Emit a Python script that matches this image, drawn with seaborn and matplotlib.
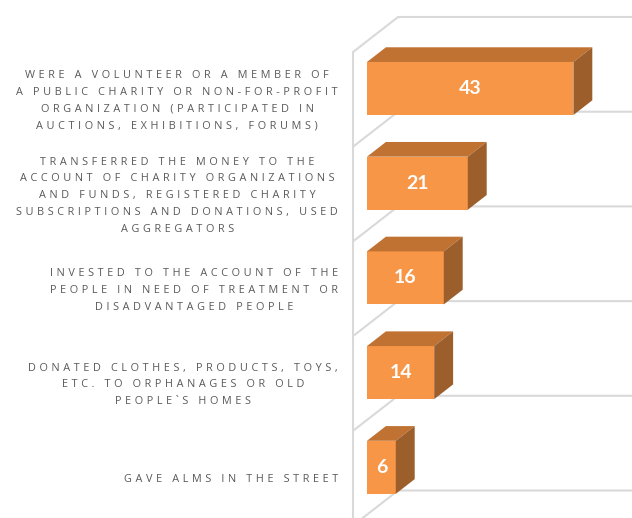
import matplotlib
matplotlib.use('Agg')
import numpy as np
import matplotlib.pyplot as plt
import seaborn as sns
from matplotlib.patches import Polygon

categories = [
    "WERE A VOLUNTEER OR A MEMBER OF\nA PUBLIC CHARITY OR NON-FOR-PROFIT\nORGANIZATION (PARTICIPATED IN\nAUCTIONS, EXHIBITIONS, FORUMS)",
    "TRANSFERRED THE MONEY TO THE\nACCOUNT OF CHARITY ORGANIZATIONS\nAND FUNDS, REGISTERED CHARITY\nSUBSCRIPTIONS AND DONATIONS, USED\nAGGREGATORS",
    "INVESTED TO THE ACCOUNT OF THE\nPEOPLE IN NEED OF TREATMENT OR\nDISADVANTAGED PEOPLE",
    "DONATED CLOTHES, PRODUCTS, TOYS,\nETC. TO ORPHANAGES OR OLD\nPEOPLE`S HOMES",
    "GAVE ALMS IN THE STREET",
]
values = [43, 21, 16, 14, 6]

FRONT = '#F79646'
TOP = '#C07232'
SIDE = '#9C5E2B'
GRID = '#D9D9D9'
TEXT = '#595959'

sns.set_theme(style='white')
plt.rcParams['font.family'] = ['Open Sans', 'DejaVu Sans']

fig = plt.figure(figsize=(6.32, 5.18), dpi=100)
ax = fig.add_axes([0, 0, 1, 1])

sns.barplot(x=values, y=categories, orient='h', color=FRONT, saturation=1,
            width=0.56, linewidth=0, ax=ax, zorder=3)

# axes scaled so one value unit / one category step is a fixed pixel length
px_x, px_y = 4.8, 94.7
x0_px, y0_px = 367, 88.5
W, H = 632, 518
xmin, xmax = -x0_px / px_x, (W - x0_px) / px_x
ax.set_xlim(xmin, xmax)
ax.set_ylim((H - y0_px) / px_y, -y0_px / px_y)
ax.axis('off')

# fake 3d depth: wall goes 45px right / 35px up, bars sit in the middle of it
wall_dx, wall_dy = 45, -35
d_front, d_back = 0.31, 0.73


def shift(x, y, d):
    return x + (d - d_front) * wall_dx / px_x, y + (d - d_front) * wall_dy / px_y


# wall / gridlines
n = len(categories)
xa, ya = shift(0, -0.5, 0)
ax.plot([xa, xa], [ya, n + 1], color=GRID, lw=1.5, zorder=1)
for b in np.arange(n + 1) - 0.5:
    xa, ya = shift(0, b, 0)
    xb, yb = shift(0, b, 1)
    ax.plot([xa, xb, xmax], [ya, yb, yb], color=GRID, lw=1.5, zorder=1,
            solid_capstyle='butt')

# top and side faces + value labels
for p, v in zip(ax.patches, values):
    x1 = p.get_x()
    x2 = x1 + p.get_width()
    yt = p.get_y()
    yb_ = yt + p.get_height()
    top = [(x1, yt), (x2, yt), shift(x2, yt, d_back), shift(x1, yt, d_back)]
    side = [(x2, yt), (x2, yb_), shift(x2, yb_, d_back), shift(x2, yt, d_back)]
    ax.add_patch(Polygon(top, closed=True, facecolor=TOP, edgecolor='none', zorder=3))
    ax.add_patch(Polygon(side, closed=True, facecolor=SIDE, edgecolor='none', zorder=3))
    ax.text((x1 + x2) / 2, yt + p.get_height() / 2, str(v), ha='center', va='center',
            color='white', fontsize=14, fontweight='bold',
            family=['Lato', 'DejaVu Sans'], zorder=4)


def spaced(s):
    return '\n'.join('\u2004'.join(line) for line in s.split('\n'))


for i, cat in enumerate(categories):
    lx, ly = shift(0, i, 0)
    ax.text(lx - 15 / px_x, ly + 1.5 / px_y, spaced(cat), ha='right', va='center',
            multialignment='center', fontsize=7.8, color=TEXT, linespacing=1.72)

fig.savefig('out.png', dpi=100)
